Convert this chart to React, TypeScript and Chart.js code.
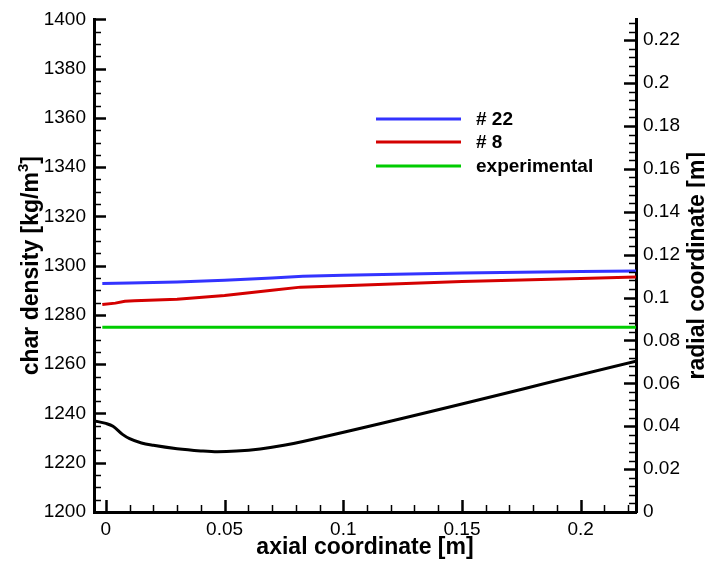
import React, { useEffect, useRef } from "react";
import { Chart, registerables } from "chart.js";

Chart.register(...registerables);

const FONT = "'Liberation Sans', Arial, Helvetica, sans-serif";

// Axis ticks
const xTicks = [0, 0.05, 0.1, 0.15, 0.2];
const xTickLabels = ["0", "0.05", "0.1", "0.15", "0.2"];
const densityTicks = [1200, 1220, 1240, 1260, 1280, 1300, 1320, 1340, 1360, 1380, 1400];
const densityTickLabels = ["1200", "1220", "1240", "1260", "1280", "1300", "1320", "1340", "1360", "1380", "1400"];
const radialTicks = [0, 0.02, 0.04, 0.06, 0.08, 0.1, 0.12, 0.14, 0.16, 0.18, 0.2, 0.22];
const radialTickLabels = ["0", "0.02", "0.04", "0.06", "0.08", "0.1", "0.12", "0.14", "0.16", "0.18", "0.2", "0.22"];

// Series: # 22 (char density)
const x22 = [-0.0015, 0.01, 0.03, 0.05, 0.07, 0.083, 0.1, 0.15, 0.2, 0.2233];
const rho22 = [1292.8, 1293.0, 1293.4, 1294.1, 1295.0, 1295.7, 1296.1, 1297.0, 1297.6, 1297.8];

// Series: # 8 (char density)
const x8 = [-0.0015, 0.004, 0.008, 0.012, 0.03, 0.05, 0.07, 0.082, 0.1, 0.15, 0.2, 0.2233];
const rho8 = [1284.2, 1284.8, 1285.6, 1285.8, 1286.4, 1287.9, 1290.0, 1291.3, 1291.9, 1293.6, 1294.8, 1295.4];

// Series: experimental (char density)
const xExp = [-0.0015, 0.2233];
const rhoExp = [1275, 1275];

// Geometry: radial coordinate (right axis)
const xRadial = [-0.005, 0, 0.003, 0.007, 0.01, 0.015, 0.02, 0.03, 0.04, 0.047, 0.055, 0.065, 0.075, 0.083, 0.2233];
const radial = [0.0425, 0.0413, 0.040, 0.0362, 0.0342, 0.0322, 0.0311, 0.0295, 0.0285, 0.0281, 0.0284, 0.0294, 0.0311, 0.0329, 0.0703];

const legendItems = [
  { label: "# 22", color: "#3333ff" },
  { label: "# 8", color: "#d40000" },
  { label: "experimental", color: "#00cc00" },
];

const pts = (xs: number[], ys: number[]) => xs.map((x, i) => ({ x, y: ys[i] }));

const TITLE = 23;

const decorPlugin = {
  id: "decor",
  afterDraw(chart: any) {
    const ctx = chart.ctx as CanvasRenderingContext2D;
    const { left, right, top, bottom } = chart.chartArea;
    const sx = chart.scales.x;
    const sy = chart.scales.y;
    const sr = chart.scales.y1;
    ctx.save();
    ctx.strokeStyle = "#000";
    const MAJ = 12;
    const MIN = 7;
    // left axis ticks
    for (let v = 1200; v <= 1400.001; v += 5) {
      const major = Math.abs(v % 20) < 0.001;
      const py = Math.round(sy.getPixelForValue(v)) + 0.5;
      ctx.lineWidth = major ? 2.5 : 1.5;
      ctx.beginPath();
      ctx.moveTo(left, py);
      ctx.lineTo(left + (major ? MAJ : MIN), py);
      ctx.stroke();
    }
    // right axis ticks
    for (let k = 0; k * 0.004 <= sr.max + 1e-9; k++) {
      const v = k * 0.004;
      const major = k % 5 === 0;
      const py = Math.round(sr.getPixelForValue(v)) + 0.5;
      ctx.lineWidth = major ? 2.5 : 1.5;
      ctx.beginPath();
      ctx.moveTo(right, py);
      ctx.lineTo(right - (major ? MAJ : MIN), py);
      ctx.stroke();
    }
    // x axis ticks
    for (let k = 0; k * 0.01 <= sx.max + 1e-9; k++) {
      const v = k * 0.01;
      const major = k % 5 === 0;
      const px = Math.round(sx.getPixelForValue(v)) + 0.5;
      ctx.lineWidth = major ? 2.5 : 1.5;
      ctx.beginPath();
      ctx.moveTo(px, bottom);
      ctx.lineTo(px, bottom - (major ? MAJ : MIN));
      ctx.stroke();
    }

    // axis titles
    ctx.fillStyle = "#000";
    ctx.font = `bold ${TITLE}px ${FONT}`;
    ctx.textBaseline = "alphabetic";
    // bottom
    ctx.textAlign = "center";
    ctx.fillText("axial coordinate [m]", (left + right) / 2, 554);
    // left (with superscript)
    const cy = (top + bottom) / 2;
    const main1 = "char density [kg/m";
    const sup = "3";
    const main2 = "]";
    ctx.font = `bold ${TITLE}px ${FONT}`;
    const w1 = ctx.measureText(main1).width;
    const w3 = ctx.measureText(main2).width;
    ctx.font = `bold 15px ${FONT}`;
    const w2 = ctx.measureText(sup).width;
    const total = w1 + w2 + w3;
    ctx.save();
    ctx.translate(38, cy);
    ctx.rotate(-Math.PI / 2);
    ctx.textAlign = "left";
    ctx.font = `bold ${TITLE}px ${FONT}`;
    ctx.fillText(main1, -total / 2, 0);
    ctx.font = `bold 15px ${FONT}`;
    ctx.fillText(sup, -total / 2 + w1, -10);
    ctx.font = `bold ${TITLE}px ${FONT}`;
    ctx.fillText(main2, -total / 2 + w1 + w2, 0);
    ctx.restore();
    // right
    ctx.save();
    ctx.translate(704, cy);
    ctx.rotate(-Math.PI / 2);
    ctx.textAlign = "center";
    ctx.font = `bold ${TITLE}px ${FONT}`;
    ctx.fillText("radial coordinate [m]", 0, 0);
    ctx.restore();

    // legend
    const lx0 = 376, lx1 = 461, tx = 476;
    const ys = [119, 142, 166];
    legendItems.forEach((it, i) => {
      ctx.strokeStyle = it.color;
      ctx.lineWidth = 3;
      ctx.beginPath();
      ctx.moveTo(lx0, ys[i]);
      ctx.lineTo(lx1, ys[i]);
      ctx.stroke();
      ctx.fillStyle = "#000";
      ctx.font = `bold 19px ${FONT}`;
      ctx.textAlign = "left";
      ctx.textBaseline = "middle";
      ctx.fillText(it.label, tx, ys[i] + 1);
    });
    ctx.restore();
  },
};

export default function App() {
  const ref = useRef<HTMLCanvasElement | null>(null);
  useEffect(() => {
    document.body.style.margin = "0";
    const canvas = ref.current;
    if (!canvas) return;
    const tickFont = { family: FONT, size: 19 };
    const chart = new Chart(canvas, {
      type: "line",
      data: {
        datasets: [
          {
            label: "# 22",
            data: pts(x22, rho22),
            borderColor: "#3333ff",
            borderWidth: 3,
            pointRadius: 0,
            tension: 0,
            yAxisID: "y",
          },
          {
            label: "# 8",
            data: pts(x8, rho8),
            borderColor: "#d40000",
            borderWidth: 3,
            pointRadius: 0,
            tension: 0,
            yAxisID: "y",
          },
          {
            label: "experimental",
            data: pts(xExp, rhoExp),
            borderColor: "#00cc00",
            borderWidth: 3,
            pointRadius: 0,
            tension: 0,
            yAxisID: "y",
          },
          {
            label: "radial",
            data: pts(xRadial, radial),
            borderColor: "#000000",
            borderWidth: 3,
            pointRadius: 0,
            cubicInterpolationMode: "monotone",
            yAxisID: "y1",
          },
        ],
      },
      plugins: [decorPlugin],
      options: {
        responsive: false,
        animation: false,
        devicePixelRatio: 1,
        layout: { padding: { top: 17, left: 0, right: 0, bottom: 0 } },
        plugins: { legend: { display: false }, tooltip: { enabled: false } },
        scales: {
          x: {
            type: "linear",
            position: "bottom",
            min: -0.005,
            max: 0.2233,
            afterFit: (s: any) => { s.height = 49; },
            afterBuildTicks: (s: any) => { s.ticks = xTicks.map((v) => ({ value: v })); },
            grid: { display: false, drawTicks: false },
            border: { display: true, color: "#000", width: 3 },
            ticks: {
              font: tickFont,
              color: "#000",
              padding: 6,
              maxRotation: 0,
              autoSkip: false,
              callback: (_v: any, i: number) => xTickLabels[i],
            },
          },
          y: {
            type: "linear",
            position: "left",
            min: 1200,
            max: 1400,
            afterFit: (s: any) => { s.width = 94; },
            afterBuildTicks: (s: any) => { s.ticks = densityTicks.map((v) => ({ value: v })); },
            grid: { display: false, drawTicks: false },
            border: { display: true, color: "#000", width: 3 },
            ticks: {
              font: tickFont,
              color: "#000",
              padding: 8,
              autoSkip: false,
              callback: (_v: any, i: number) => densityTickLabels[i],
            },
          },
          y1: {
            type: "linear",
            position: "right",
            min: 0,
            max: 0.2297,
            afterFit: (s: any) => { s.width = 69; },
            afterBuildTicks: (s: any) => { s.ticks = radialTicks.map((v) => ({ value: v })); },
            grid: { display: false, drawTicks: false },
            border: { display: true, color: "#000", width: 3 },
            ticks: {
              font: tickFont,
              color: "#000",
              padding: 7,
              autoSkip: false,
              callback: (_v: any, i: number) => radialTickLabels[i],
            },
          },
        },
      },
    } as any);
    return () => chart.destroy();
  }, []);
  return (
    <div style={{ position: "absolute", left: 0, top: 0, width: 705, height: 561, background: "#fff" }}>
      <canvas ref={ref} width={705} height={561} style={{ width: 705, height: 561, display: "block" }} />
    </div>
  );
}
